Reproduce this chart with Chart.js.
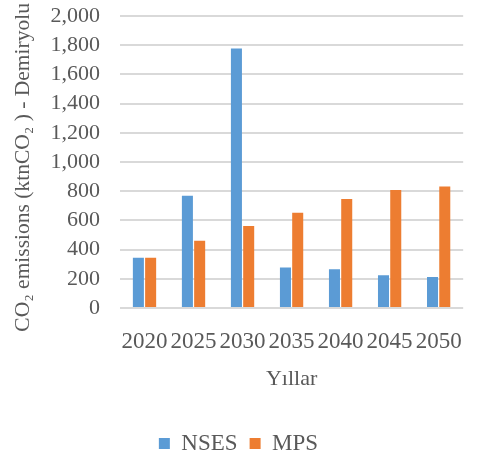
<!DOCTYPE html>
<html><head><meta charset="utf-8">
<script src="https://cdn.jsdelivr.net/npm/chart.js@4/dist/chart.umd.min.js"></script>
<style>html,body{margin:0;padding:0;background:#fff}#wrap{width:482px;height:457px}</style>
</head><body><div id="wrap"><canvas id="c" width="482" height="457"></canvas></div>
<script>
const categories = ["2020","2025","2030","2035","2040","2045","2050"];
const nsesValues = [345, 768, 1778, 278, 265, 225, 213];
const mpsValues = [345, 460, 562, 652, 746, 808, 833];
const yTicks = [0,200,400,600,800,1000,1200,1400,1600,1800,2000];
const seriesNames = ["NSES","MPS"];
const yTitle = "CO\u2082 emissions (ktnCO\u2082 ) - Demiryolu  ";
const xTitle = "Y\u0131llar";

const font = "'Liberation Serif','Times New Roman',serif";
new Chart(document.getElementById('c'), {
  type: 'bar',
  data: {
    labels: categories,
    datasets: [
      {label: seriesNames[0], data: nsesValues, backgroundColor: '#5B9BD5', categoryPercentage: 0.5, barPercentage: 0.9},
      {label: seriesNames[1], data: mpsValues, backgroundColor: '#ED7D31', categoryPercentage: 0.5, barPercentage: 0.9}
    ]
  },
  options: {
    responsive: false,
    animation: false,
    layout: {padding: {left: 0, right: 5, top: 0, bottom: -8}},
    plugins: {
      legend: {position: 'bottom', labels: {font: {family: font, size: 23}, color: '#595959', boxWidth: 11, boxHeight: 11, padding: 12}},
      tooltip: {enabled: false}
    },
    scales: {
      x: {
        grid: {display: false, drawTicks: false},
        border: {display: false},
        ticks: {font: {family: font, size: 23}, color: '#595959', padding: 20, maxRotation: 0, autoSkip: false},
        title: {display: true, text: xTitle, font: {family: font, size: 22}, color: '#595959', padding: {top: -10, bottom: 28}}
      },
      y: {
        min: 0, max: 2000,
        afterBuildTicks: s => { s.ticks = yTicks.map(v => ({value: v})); },
        grid: {color: '#d9d9d9', lineWidth: 2, drawTicks: false},
        border: {display: false},
        ticks: {font: {family: font, size: 22}, color: '#595959', padding: 20, autoSkip: false,
          callback: v => v.toLocaleString('en-US')},
        title: {display: true, text: yTitle, font: {family: font, size: 21.5}, color: '#595959', padding: {top: 10, bottom: 0}},
        afterFit: s => { s.width = 120; s.paddingTop = 16; s.paddingBottom = 0; }
      }
    }
  }
});
</script></body></html>
